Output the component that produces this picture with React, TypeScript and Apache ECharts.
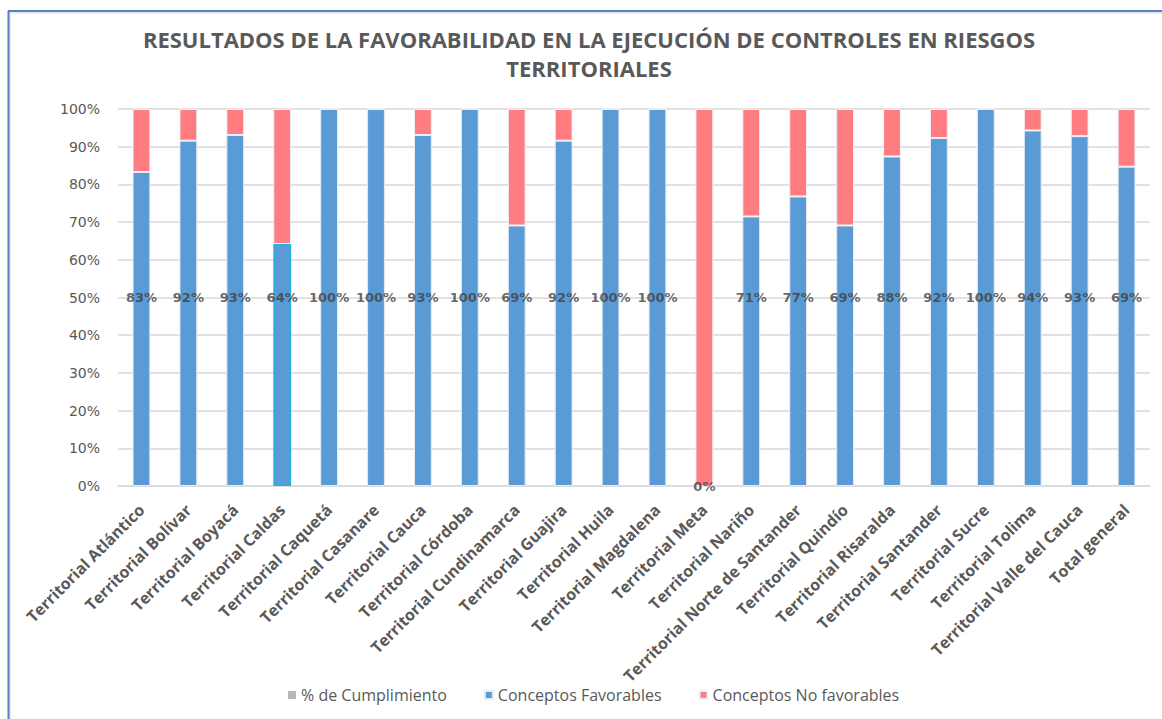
import React, { useEffect, useRef } from "react";
import * as echarts from "echarts";

const categories = [
  "Territorial Atlántico",
  "Territorial Bolívar",
  "Territorial Boyacá",
  "Territorial Caldas",
  "Territorial Caquetá",
  "Territorial Casanare",
  "Territorial Cauca",
  "Territorial Córdoba",
  "Territorial Cundinamarca",
  "Territorial Guajira",
  "Territorial Huila",
  "Territorial Magdalena",
  "Territorial Meta",
  "Territorial Nariño",
  "Territorial Norte de Santander",
  "Territorial Quindío",
  "Territorial Risaralda",
  "Territorial Santander",
  "Territorial Sucre",
  "Territorial Tolima",
  "Territorial Valle del Cauca",
  "Total general",
];

const favorables = [83.3, 91.6, 93.1, 64.2, 100, 100, 93.1, 100, 69.1, 91.6, 100, 100, 0, 71.5, 76.8, 69.1, 87.4, 92.3, 100, 94.3, 92.8, 84.7];
const noFavorables = [16.7, 8.4, 6.9, 35.8, 0, 0, 6.9, 0, 30.9, 8.4, 0, 0, 100, 28.5, 23.2, 30.9, 12.6, 7.7, 0, 5.7, 7.2, 15.3];
const cumplimiento = [83, 92, 93, 64, 100, 100, 93, 100, 69, 92, 100, 100, 0, 71, 77, 69, 88, 92, 100, 94, 93, 69];

const yTicks = [0, 10, 20, 30, 40, 50, 60, 70, 80, 90, 100];

const titleLines = [
  "RESULTADOS DE LA FAVORABILIDAD EN LA EJECUCIÓN DE CONTROLES EN RIESGOS",
  "TERRITORIALES",
];

export default function App() {
  const ref = useRef<HTMLDivElement>(null);
  useEffect(() => {
    if (!ref.current) return;
    const chart = echarts.init(ref.current, null, { renderer: "svg" });
    const labelY = (v: number) => (v > 0 ? 50 : 0);
    const option = {
      animation: false,
      backgroundColor: "#ffffff",
      graphic: [
        { type: "line", shape: { x1: 8, y1: 13, x2: 1162, y2: 13 }, style: { stroke: "#E3E3E3", lineWidth: 1.5 }, z: 0 },
        { type: "line", shape: { x1: 10, y1: 11, x2: 10, y2: 719 }, style: { stroke: "#E3E3E3", lineWidth: 1.5 }, z: 0 },
        { type: "line", shape: { x1: 8, y1: 11, x2: 1162, y2: 11 }, style: { stroke: "#5580C2", lineWidth: 2 }, z: 1 },
        { type: "line", shape: { x1: 8.5, y1: 11, x2: 8.5, y2: 719 }, style: { stroke: "#5580C2", lineWidth: 2 }, z: 1 },
        ...titleLines.map((t, i) => ({
          type: "text",
          x: 589,
          y: 39 + i * 29,
          style: {
            text: t,
            textAlign: "center",
            textVerticalAlign: "middle",
            fill: "#595959",
            font: "bold 22px 'Open Sans'",
          },
        })),
      ],
      legend: {
        left: 283,
        top: 682,
        itemWidth: 8,
        itemHeight: 8,
        itemGap: 37,
        icon: "rect",
        textStyle: { color: "#595959", fontSize: 16, fontFamily: "'Open Sans'" },
        data: ["% de Cumplimiento", "Conceptos Favorables", "Conceptos No favorables"],
      },
      grid: { left: 118, right: 12, top: 109, bottom: 233, containLabel: false },
      xAxis: {
        type: "category",
        data: categories,
        axisTick: { show: false },
        axisLine: { lineStyle: { color: "#D9D9D9", width: 1.5 } },
        axisLabel: {
          interval: 0,
          rotate: 45,
          margin: 21,
          color: "#595959",
          fontWeight: "bold",
          fontSize: 16,
          fontFamily: "'Open Sans'",
        },
      },
      yAxis: {
        type: "value",
        min: 0,
        max: 100,
        interval: 10,
        axisLine: { show: false },
        axisTick: { show: false },
        splitLine: { lineStyle: { color: "#D9D9D9", width: 1.5 } },
        axisLabel: {
          margin: 18,
          color: "#595959",
          fontSize: 14,
          fontFamily: "'DejaVu Sans'",
          formatter: (v: number) => (yTicks.includes(v) ? v + "%" : ""),
        },
      },
      series: [
        {
          name: "% de Cumplimiento",
          type: "scatter",
          symbolSize: 0,
          itemStyle: { color: "#A5A5A5" },
          z: 5,
          data: cumplimiento.map((v, i) => [i, labelY(v), v]),
          label: {
            show: true,
            position: "inside",
            formatter: (p: any) => p.value[2] + "%",
            color: "#404040",
            fontWeight: "bold",
            fontSize: 13,
            fontFamily: "'DejaVu Sans'",
          },
        },
        {
          name: "Conceptos Favorables",
          type: "bar",
          stack: "total",
          barWidth: "38%",
          itemStyle: { color: "#5B9BD5", borderColor: "#E6ECF5", borderWidth: 1 },
          data: favorables.map((v, i) =>
            categories[i] === "Territorial Caldas"
              ? { value: v, itemStyle: { borderColor: "#1FB4E8", borderWidth: 1.5 } }
              : v
          ),
        },
        {
          name: "Conceptos No favorables",
          type: "bar",
          stack: "total",
          barWidth: "38%",
          itemStyle: { color: "#FF7C80", borderColor: "#EEF0F7", borderWidth: 1 },
          data: noFavorables,
        },
      ],
    };
    chart.setOption(option as any);
    return () => chart.dispose();
  }, []);
  return (
    <div
      ref={ref}
      style={{ position: "fixed", left: 0, top: 0, width: 1162, height: 719 }}
    />
  );
}
